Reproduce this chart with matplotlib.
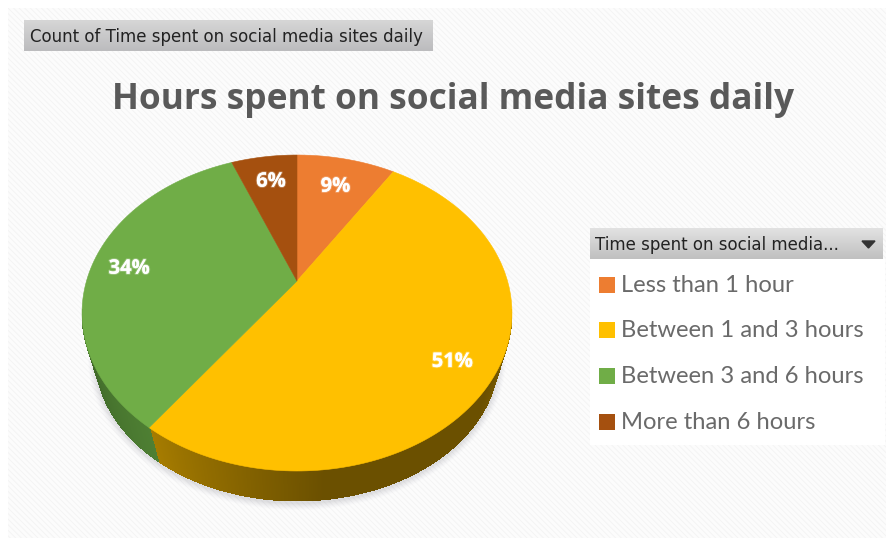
import numpy as np
import matplotlib
matplotlib.use("Agg")
import matplotlib.pyplot as plt
from matplotlib.colors import to_rgb
from matplotlib.collections import PolyCollection
from matplotlib.patches import Rectangle, Polygon, Ellipse
import matplotlib.patheffects as pe

categories = ["Less than 1 hour", "Between 1 and 3 hours", "Between 3 and 6 hours", "More than 6 hours"]
shares = [9, 51, 34, 6]
colors = ["#ED7D31", "#FFC000", "#70AD47", "#A5500F"]
title = "Hours spent on social media sites daily"
filter_label = "Count of Time spent on social media sites daily"
legend_header = "Time spent on social media..."

W, H = 887, 540
fig = plt.figure(figsize=(W / 100, H / 100), dpi=100)
ax = fig.add_axes([0, 0, 1, 1])
ax.set_xlim(0, W)
ax.set_ylim(H, 0)
ax.axis("off")

# Tilted disc: apex and perspective terms for mapping the unit circle to the canvas
APEX_X, APEX_Y = 297, 281
PERSP = 0.2026
SCALE_Y = 151.5
SCALE_X = 210.5
# Rim outline: a slightly smaller ellipse below the disc
TOP_CY, TOP_RX, TOP_RY = 313, 215, 158
BOT_CY, BOT_RX, BOT_RY = 356, 202, 145


def project(x, y):
    d = 1 + PERSP * y
    return APEX_X + SCALE_X * x / d, APEX_Y - SCALE_Y * y / d


def disc_point(frac, r=1.0):
    a = 2 * np.pi * frac
    return project(r * np.sin(a), r * np.cos(a))


# Page background with a faint diagonal weave
plt.rcParams["hatch.linewidth"] = 0.7
ax.add_patch(Rectangle((8, 8), W - 8, H - 10, facecolor="#FCFCFC", edgecolor="#F4F4F4",
                       hatch="\\\\\\\\\\\\", linewidth=0, zorder=0))


def gradient_bar(x0, x1, y0, y1, top, bottom):
    c0, c1 = np.array(to_rgb(top)), np.array(to_rgb(bottom))
    t = np.linspace(0, 1, 32)[:, None, None]
    ax.imshow(c0 * (1 - t) + c1 * t, extent=(x0, x1, y1, y0), aspect="auto",
              zorder=2, interpolation="bilinear")


# Soft shadow beneath the rim
for grow, alpha in zip(range(7, 0, -1), [0.02, 0.025, 0.03, 0.035, 0.04, 0.05, 0.06]):
    ax.add_patch(Ellipse((APEX_X, BOT_CY + 2), 2 * (BOT_RX + grow), 2 * (BOT_RY + grow),
                         facecolor="#8A8A96", alpha=alpha, linewidth=0, zorder=1))

# Angular position of the seam between the gold and green wedges on the rim
fractions = np.array(shares) / sum(shares)
edges = np.concatenate([[0], np.cumsum(fractions)])
sx, sy = disc_point(edges[2])
seam = np.arctan2((sy - TOP_CY) / TOP_RY, (sx - APEX_X) / TOP_RX)


def rim_color(t):
    if t < seam:
        u = np.interp(t, [0, 0.5, 1.45, seam], [0.55, 1, 1, 0])
        return np.array(to_rgb("#A67C00")) * (1 - u) + np.array(to_rgb("#6B5000")) * u
    u = (t - seam) / (np.pi - seam)
    return np.array(to_rgb("#4E7F33")) * (1 - u) + np.array(to_rgb("#3E6628")) * u


ts = np.linspace(-0.02, np.pi + 0.02, 500)
strips, strip_colors = [], []
for t0, t1 in zip(ts[:-1], ts[1:]):
    t1 = t1 + 0.003
    strips.append([
        (APEX_X + TOP_RX * np.cos(t0), TOP_CY + TOP_RY * np.sin(t0)),
        (APEX_X + TOP_RX * np.cos(t1), TOP_CY + TOP_RY * np.sin(t1)),
        (APEX_X + BOT_RX * np.cos(t1), BOT_CY + BOT_RY * np.sin(t1)),
        (APEX_X + BOT_RX * np.cos(t0), BOT_CY + BOT_RY * np.sin(t0)),
    ])
    strip_colors.append(rim_color(0.5 * (t0 + t1)))
ax.add_collection(PolyCollection(strips, facecolors=strip_colors, edgecolors="none",
                                 antialiased=False, zorder=3))

# Wedges on the top face
for i, color in enumerate(colors):
    fr = np.linspace(edges[i], edges[i + 1], 160)
    xs, ys = disc_point(fr)
    pts = np.column_stack([np.r_[APEX_X, xs], np.r_[APEX_Y, ys]])
    ax.add_patch(Polygon(pts, closed=True, facecolor=color, edgecolor=color, linewidth=0.4, zorder=4))

# Percentage labels along each wedge's mid angle
label_radii = [0.75, 0.81, 0.82, 0.76]
label_drop = [1, 5, 3, -1]
for i, share in enumerate(shares):
    lx, ly = disc_point(0.5 * (edges[i] + edges[i + 1]), label_radii[i])
    ax.text(lx, ly + label_drop[i], f"{share}%", color="white", fontsize=14.5, fontweight="bold",
            family="Open Sans", ha="center", va="center", zorder=6,
            path_effects=[pe.withStroke(linewidth=1.5, foreground=(1, 1, 1, 0.25))])

# Field button above the plot
gradient_bar(24, 433, 20, 51, "#D6D6D6", "#BCBCBE")
ax.text(30, 36.5, filter_label, fontsize=11.95, color="#222222", family="DejaVu Sans",
        ha="left", va="center", zorder=6)

ax.text(453.5, 99.5, title, fontsize=25.4, fontweight="bold", color="#595959",
        family="Open Sans", ha="center", va="center", zorder=6)

# Legend panel with its field button
ax.add_patch(Rectangle((590, 259), 295, 186, facecolor="#FFFFFF", edgecolor="none", zorder=1.5))
gradient_bar(590, 883, 228, 259, "#E2E2E2", "#C0C0C0")
ax.text(595, 244.5, legend_header, fontsize=11.95, color="#222222", family="DejaVu Sans",
        ha="left", va="center", zorder=6)
ax.fill([862, 875, 868.5], [241, 241, 248], color="#333333", zorder=6)

legend_ys = [284.5, 330, 376, 422]
for name, color, y in zip(categories, colors, legend_ys):
    ax.add_patch(Rectangle((599, y - 8), 16, 16, facecolor=color, edgecolor="none", zorder=6))
    ax.text(621, y + 0.5, name, fontsize=17.1, color="#6A6A6A", family="Lato",
            ha="left", va="center", zorder=6)

ax.set_xlim(0, W)
ax.set_ylim(H, 0)
fig.savefig("out.png", dpi=100, facecolor="white")
